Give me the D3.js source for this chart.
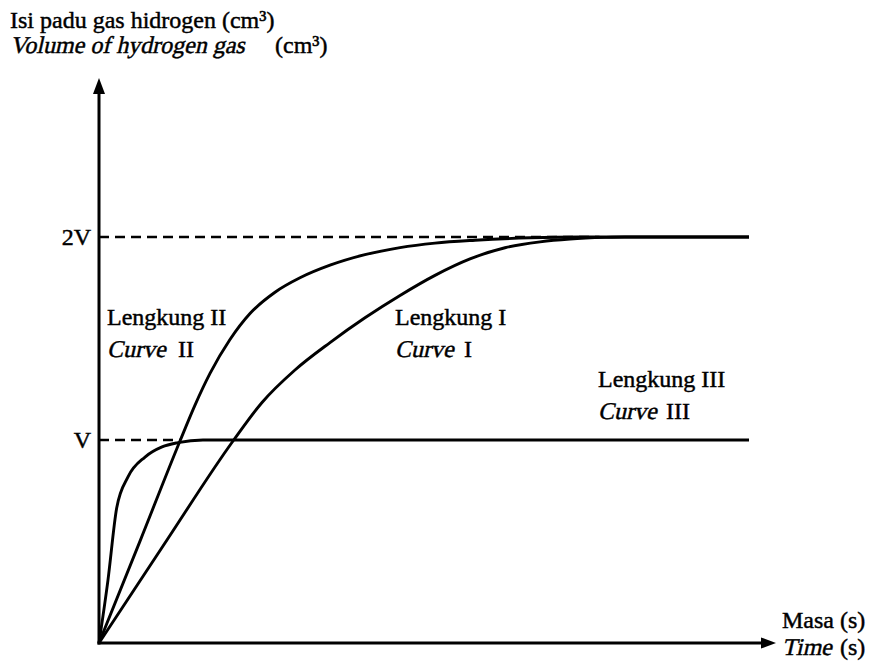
<!DOCTYPE html>
<html>
<head>
<meta charset="utf-8">
<script src="https://cdn.jsdelivr.net/npm/d3@7"></script>
<style>
  body { margin: 0; background: #fff; }
  svg { display: block; }
  text { font-family: "Liberation Serif", "Times New Roman", serif; font-size: 24px; fill: #000; stroke: #000; stroke-width: 0.45px; }
</style>
</head>
<body>
<svg id="chart" width="870" height="671"></svg>
<script>
// values: time in arbitrary units, volume in units of V
let yTickValues = [1, 2];
let yTickLabels = ['V', '2V'];

let curveI = [[0, 0], [1.0, 0.485], [2.062, 0.995], [2.508, 1.185], [3.015, 1.345], [3.554, 1.48],
  [4.092, 1.602], [4.631, 1.712], [5.169, 1.811], [5.708, 1.892], [6.246, 1.947],
  [6.785, 1.976], [7.246, 1.99], [7.785, 1.998], [8.09, 2.0], [10, 2.0]];

let curveII = [[0, 0], [0.631, 0.502], [1.246, 0.995], [1.477, 1.172], [1.708, 1.328], [2.015, 1.495],
  [2.323, 1.623], [2.708, 1.728], [3.092, 1.799], [3.554, 1.861], [4.092, 1.913],
  [4.631, 1.948], [5.169, 1.97], [5.785, 1.984], [6.631, 1.996], [7.4, 2.0], [10, 2.0]];

let curveIII = [[0, 0], [0.138, 0.31], [0.272, 0.665], [0.446, 0.818], [0.708, 0.916],
  [0.97, 0.966], [1.215, 0.987], [1.6, 1.0], [10, 1.0]];

// where the dashed guide lines stop (time units)
let guideEnds = [1.25, 7.7];

let svg = d3.select('#chart');

let x = d3.scaleLinear().domain([0, 10]).range([99, 749]);
let y = d3.scaleLinear().domain([0, 2]).range([643, 237]);

// no italic serif face here, so slant the regular one
function italic(px, py, str) {
  return svg.append('text')
    .attr('transform', 'translate(' + px + ',' + py + ') skewX(-13)')
    .text(str);
}

// dashed guides V and 2V
svg.selectAll('line.guide')
  .data(yTickValues)
  .enter()
  .append('line')
  .attr('class', 'guide')
  .attr('x1', x(0))
  .attr('x2', (d, i) => x(guideEnds[i]))
  .attr('y1', d => y(d))
  .attr('y2', d => y(d))
  .attr('stroke', '#000')
  .attr('stroke-width', 2.4)
  .attr('stroke-dasharray', '10,6');

// tick labels
let yAxis = d3.axisLeft(y)
  .tickValues(yTickValues)
  .tickFormat((d, i) => yTickLabels[i])
  .tickSize(0)
  .tickPadding(8);

let ga = svg.append('g')
  .attr('transform', 'translate(' + x(0) + ',0)')
  .call(yAxis);
ga.select('.domain').remove();
ga.selectAll('text')
  .attr('font-family', null)
  .attr('font-size', null)
  .attr('dy', '0.32em')
  .style('font-size', '24px');

// curves
let line = d3.line()
  .x(d => x(d[0]))
  .y(d => y(d[1]))
  .curve(d3.curveMonotoneX);

svg.selectAll('path.curve')
  .data([curveI, curveII, curveIII])
  .enter()
  .append('path')
  .attr('class', 'curve')
  .attr('d', line)
  .attr('fill', 'none')
  .attr('stroke', '#000')
  .attr('stroke-width', 2.9)
  .attr('stroke-linejoin', 'round');

// axes with arrow heads
let ox = x(0), oy = y(0);
let yTop = 78, xEnd = 776;

svg.append('line')
  .attr('x1', ox).attr('y1', oy + 1.5)
  .attr('x2', ox).attr('y2', yTop + 10)
  .attr('stroke', '#000').attr('stroke-width', 3);
svg.append('line')
  .attr('x1', ox - 1.5).attr('y1', oy)
  .attr('x2', xEnd - 10).attr('y2', oy)
  .attr('stroke', '#000').attr('stroke-width', 3);

svg.append('path')
  .attr('d', 'M' + ox + ',' + yTop + 'L' + (ox - 6) + ',' + (yTop + 16) + 'L' + (ox + 6) + ',' + (yTop + 16) + 'Z')
  .attr('fill', '#000');
svg.append('path')
  .attr('d', 'M' + xEnd + ',' + oy + 'L' + (xEnd - 15) + ',' + (oy - 5.5) + 'L' + (xEnd - 15) + ',' + (oy + 5.5) + 'Z')
  .attr('fill', '#000');

// axis titles
svg.append('text').attr('x', 10).attr('y', 28).text('Isi padu gas hidrogen (cm³)');
italic(10, 53, 'Volume of hydrogen gas');
svg.append('text').attr('x', 275).attr('y', 53).text('(cm³)');

svg.append('text').attr('x', 782).attr('y', 628).text('Masa (s)');
italic(782, 655, 'Time');
svg.append('text').attr('x', 840).attr('y', 655).text('(s)');

// curve labels
let labels = [
  {name: 'Lengkung II', num: 'II', lx: 107, ly: 325, gap: 71},
  {name: 'Lengkung I', num: 'I', lx: 395, ly: 325, gap: 69},
  {name: 'Lengkung III', num: 'III', lx: 598, ly: 387, gap: 68}
];

labels.forEach(function(l) {
  svg.append('text').attr('x', l.lx).attr('y', l.ly).text(l.name);
  italic(l.lx, l.ly + 32, 'Curve');
  svg.append('text').attr('x', l.lx + l.gap).attr('y', l.ly + 32).text(l.num);
});
</script>
</body>
</html>
